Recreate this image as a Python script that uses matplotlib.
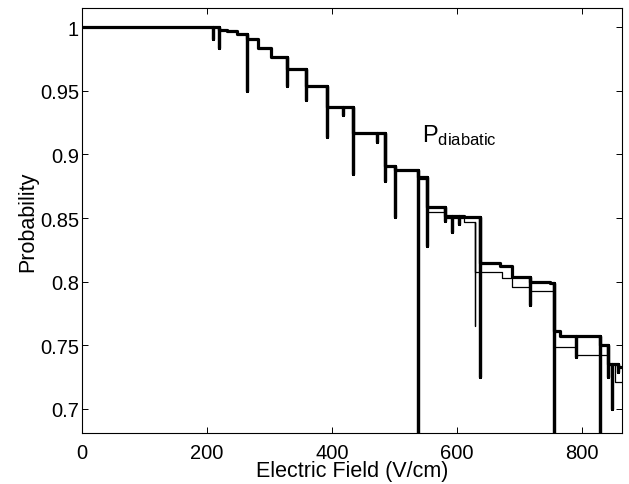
import numpy as np
import matplotlib
matplotlib.use('Agg')
import matplotlib.pyplot as plt
from matplotlib.ticker import FuncFormatter

plt.rcParams['font.family'] = ['Liberation Sans', 'DejaVu Sans']
plt.rcParams['mathtext.fontset'] = 'custom'
plt.rcParams['mathtext.rm'] = 'Liberation Sans'
plt.rcParams['mathtext.it'] = 'Liberation Sans'

# Step curves: field where the level changes, and the new level
thick_x = [0, 219, 232, 248, 264, 282, 302, 328, 358, 392, 434, 485, 501,
           538, 552, 581, 612, 637, 669, 688, 717, 749, 755, 765, 829, 842, 858]
thick_y = [1.0, 0.998, 0.997, 0.9945, 0.9906, 0.9835, 0.9764, 0.967, 0.954,
           0.937, 0.917, 0.891, 0.888, 0.882, 0.859, 0.852, 0.851, 0.815,
           0.812, 0.804, 0.800, 0.799, 0.761, 0.757, 0.750, 0.735, 0.733]
# Narrow dips in the thick curve: field and lowest value
thick_dip_x = [210, 219, 264, 328, 358, 392, 418, 434, 472, 485, 501,
               538, 552, 581, 592, 603, 637, 717, 755, 790, 829, 842, 848, 858]
thick_dip_y = [0.9906, 0.9835, 0.9497, 0.9537, 0.9427, 0.914, 0.931, 0.885,
               0.910, 0.879, 0.851, 0.60, 0.828, 0.848, 0.839, 0.845, 0.725,
               0.782, 0.60, 0.741, 0.60, 0.725, 0.700, 0.729]

thin_x = [0, 219, 232, 248, 264, 282, 302, 328, 358, 392, 434, 485, 501,
          538, 552, 581, 612, 629, 672, 688, 717, 755, 790, 842, 852]
thin_y = [1.0, 0.998, 0.997, 0.9945, 0.9906, 0.9835, 0.9764, 0.967, 0.954,
          0.937, 0.917, 0.891, 0.888, 0.881, 0.855, 0.850, 0.847, 0.808,
          0.803, 0.796, 0.793, 0.749, 0.742, 0.735, 0.721]
thin_dip_x = [629]
thin_dip_y = [0.765]

x_max = 864


def step_path(xs, ys, dip_x, dip_y, x_end):
    # build a stair path, inserting the narrow dips as vertical excursions
    events = sorted(set(xs) | set(dip_x))
    px, py = [], []
    level = ys[0]
    for e in events:
        px.append(e)
        py.append(level)
        if e in dip_x:
            d = dip_y[dip_x.index(e)]
            px += [e, e]
            py += [d, level]
        if e in xs:
            level = ys[xs.index(e)]
            px.append(e)
            py.append(level)
    px.append(x_end)
    py.append(level)
    return px, py


fig = plt.figure(figsize=(6.29, 4.85), dpi=100)
ax = fig.add_axes([0.130, 0.105, 0.859, 0.876])

tx, ty = step_path(thin_x, thin_y, thin_dip_x, thin_dip_y, x_max)
ax.plot(tx, ty, color='black', linewidth=0.9)
kx, ky = step_path(thick_x, thick_y, thick_dip_x, thick_dip_y, x_max)
ax.plot(kx, ky, color='black', linewidth=2.3)

ax.text(544, 0.9105, r'$\mathrm{P}_{\mathrm{diabatic}}$', fontsize=17)

ax.set_xlim(0, x_max)
ax.set_ylim(0.681, 1.015)
ax.set_xticks([0, 200, 400, 600, 800])
ax.set_yticks([0.7, 0.75, 0.8, 0.85, 0.9, 0.95, 1.0])
ax.yaxis.set_major_formatter(FuncFormatter(lambda v, p: '%g' % v))
ax.tick_params(direction='in', top=True, right=True, length=4, width=0.7,
               labelsize=14.5)
ax.tick_params(axis='x', pad=7)
ax.tick_params(axis='y', pad=2)
for s in ax.spines.values():
    s.set_linewidth(0.8)
ax.set_xlabel('Electric Field (V/cm)', fontsize=15.5, labelpad=-1)
ax.set_ylabel('Probability', fontsize=15.5, labelpad=1)

fig.savefig('out.png', dpi=100)
